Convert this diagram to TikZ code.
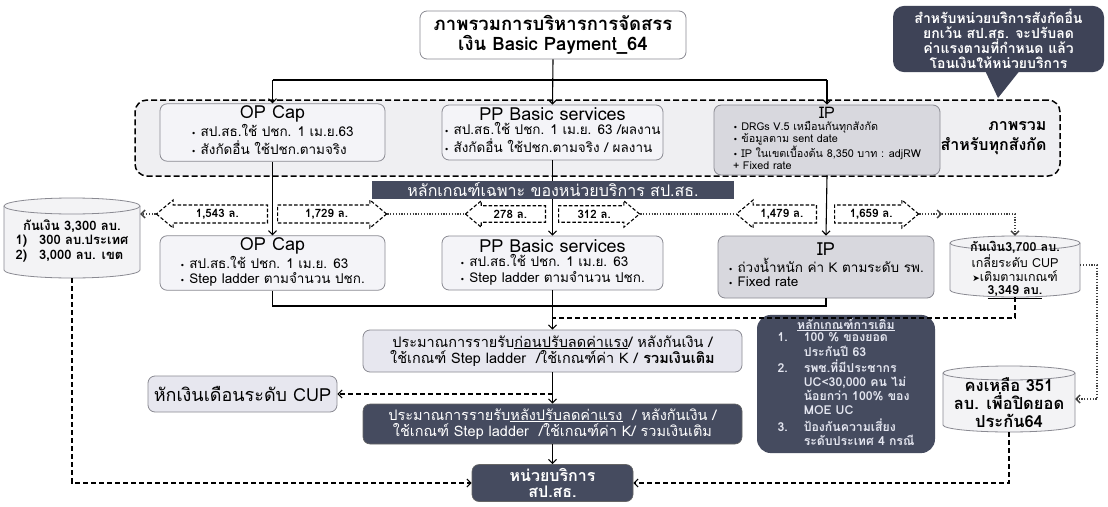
\documentclass[tikz,border=0pt]{standalone}
\usepackage{fontspec}
\setmainfont[Script=Thai]{Loma}
\newfontfamily\symf{DejaVu Sans}
\usetikzlibrary{shapes.arrows,arrows.meta}
\definecolor{darkbx}{HTML}{454B5F}
\definecolor{callbx}{HTML}{3E4357}
\definecolor{lightbx}{HTML}{F4F4F8}
\definecolor{ipbx}{HTML}{D8D8DE}
\definecolor{grpbg}{HTML}{EFEFF2}
\definecolor{bord}{HTML}{8A8A92}
\definecolor{prebx}{HTML}{E7E7EF}
\definecolor{cylbx}{HTML}{F3F3F5}
\definecolor{crittx}{HTML}{E4E6F0}
\newcommand\fs[2]{\fontsize{#1}{#2}\selectfont}
\newcommand\bul{{\symf\fs{8}{10}•}\ }
\newcommand\cylinder[8]{%
  \filldraw[cylst] (#2-#5,#3+#6) -- (#2-#5,#4-#6)
     arc[start angle=180,end angle=360,x radius=#5pt,y radius=#6pt]
     -- (#2+#5,#3+#6)
     arc[start angle=0,end angle=180,x radius=#5pt,y radius=#6pt] -- cycle;
  \draw[cylst] (#2-#5,#3+#6) arc[start angle=180,end angle=360,x radius=#5pt,y radius=#6pt];
  \node[inner sep=0pt, minimum width=2*#5, minimum height=#4-#3] (#1) at (#2,{(#3+#4)/2}) {};
  \node[inner sep=0pt, font=#7, align=center] (#1t) at (#2,{(#3+#4)/2+#6/2}) {#8};
}
\begin{document}
\begin{tikzpicture}[x=1pt,y=-1pt,
  lbox/.style={draw=bord, line width=0.8pt, fill=lightbx, rounded corners=7pt, inner sep=2pt, align=center},
  bfont/.style={font=\fs{13.5}{14.5}},
  ipst/.style={lbox, fill=ipbx},
  dbox/.style={draw=black!60, line width=0.6pt, fill=darkbx, rounded corners=7pt, text=white, align=center},
  grp/.style={draw, fill=grpbg, rounded corners=12pt, line width=1.5pt, dash pattern=on 6pt off 3pt, inner sep=0pt},
  cylst/.style={draw=bord, line width=0.8pt, fill=cylbx},
  plain/.style={line width=1.1pt},
  conn/.style={line width=1.1pt, -{Straight Barb[length=4pt,width=8pt]}},
  dashc/.style={line width=1.1pt, dash pattern=on 5pt off 3pt},
  dasha/.style={dashc, -{Straight Barb[length=4pt,width=8pt]}},
  dotc/.style={line width=1.3pt, dash pattern=on 1.2pt off 1.6pt, draw=black!75},
  dota/.style={dotc, -{Straight Barb[length=4pt,width=8pt]}},
  blk/.style={single arrow, draw, fill=white, line width=1.1pt, dash pattern=on 3.5pt off 2pt,
     single arrow head extend=5pt, single arrow tip angle=80, inner xsep=3pt, inner ysep=3.5pt,
     font=\fs{11.5}{13}\bfseries}
]
\useasboundingbox[fill=white] (0,0) rectangle (1108,506);

% group background
\node[grp, minimum width=925, minimum height=76] (grp) at (597.5,138) {};

% title
\node[lbox, fill=white, minimum width=266, minimum height=48, font=\fs{18.5}{20}\bfseries] (title) at (553,35)
  {ภาพรวมการบริหารการจัดสรร\\เงิน Basic Payment\_64};

% callout
\fill[callbx] (982,64) -- (1025,64) -- (998,98) -- cycle;
\node[dbox, draw=none, fill=callbx, rounded corners=11pt, minimum width=211, minimum height=64, font=\fs{14}{15}\bfseries] (call) at (998.5,39)
  {สำหรับหน่วยบริการสังกัดอื่น\\ยกเว้น สป.สธ. จะปรับลด\\ค่าแรงตามที่กำหนด แล้ว\\โอนเงินให้หน่วยบริการ};

% top row boxes
\node[lbox, bfont, minimum width=225, minimum height=55] (optop) at (272.5,132.5)
  {{\fs{18}{19}OP Cap}\\[1pt]\begin{tabular}{@{}l@{}}\bul สป.สธ.ใช้ ปชก. 1 เม.ย.63\\\bul สังกัดอื่น ใช้ปชก.ตามจริง\end{tabular}};
\node[lbox, bfont, minimum width=221, minimum height=55] (pptop) at (552.5,132.5)
  {{\fs{18}{19}PP Basic services}\\[1pt]\begin{tabular}{@{}l@{}}\bul สป.สธ.ใช้ ปชก. 1 เม.ย. 63 /ผลงาน\\\bul สังกัดอื่น ใช้ปชก.ตามจริง / ผลงาน\end{tabular}};
\node[ipst, minimum width=226, minimum height=68, font=\fs{10.8}{11.6}] (iptop) at (827,140)
  {{\fs{16}{16}IP}\\[2pt]\begin{tabular}{@{}l@{}}\bul DRGs V.5 เหมือนกันทุกสังกัด\\\bul ข้อมูลตาม sent date\\\bul IP ในเขตเบื้องต้น 8,350 บาท : adjRW\\+ Fixed rate\end{tabular}};
\node[anchor=east, align=right, font=\fs{16}{20}\bfseries] (lblall) at (1050,138) {ภาพรวม\\สำหรับทุกสังกัด};

% lower row boxes
\node[lbox, bfont, minimum width=225, minimum height=54] (oplow) at (272.5,263)
  {{\fs{18}{19}OP Cap}\\[1pt]\begin{tabular}{@{}l@{}}\bul สป.สธ.ใช้ ปชก. 1 เม.ย. 63\\\bul Step ladder ตามจำนวน ปชก.\end{tabular}};
\node[lbox, bfont, minimum width=221, minimum height=54] (pplow) at (552.5,263)
  {{\fs{18}{19}PP Basic services}\\[1pt]\begin{tabular}{@{}l@{}}\bul สป.สธ.ใช้ ปชก. 1 เม.ย. 63\\\bul Step ladder ตามจำนวน ปชก.\end{tabular}};
\node[ipst, bfont, minimum width=216, minimum height=62] (iplow) at (826,267)
  {{\fs{18}{19}IP}\\[1pt]\begin{tabular}{@{}l@{}}\bul ถ่วงน้ำหนัก ค่า K ตามระดับ รพ.\\\bul Fixed rate\end{tabular}};

% cylinders
\cylinder{cylA}{72}{198}{278}{68}{8}{\fs{13}{15}\bfseries}{กันเงิน 3,300 ลบ.\\\begin{tabular}{@{}l@{\hspace{12pt}}l@{}}1) & 300 ลบ.ประเทศ\\2) & 3,000 ลบ. เขต\end{tabular}}
\cylinder{cylB}{1015}{236}{297}{65}{7}{\fs{12.5}{13.5}}{\textbf{กันเงิน3,700 ลบ.}\\เกลี่ยระดับ CUP\\{\symf\fs{9}{13}➤}เติมตามเกณฑ์\\\textbf{\underline{3,349 ลบ.}}}
\cylinder{cylC}{1009}{366}{432}{66}{7}{\fs{16.5}{18}\bfseries}{คงเหลือ 351\\ลบ. เพื่อปิดยอด\\ประกัน64}

% middle boxes
\node[lbox, fill=prebx, minimum width=379, minimum height=42, font=\fs{14.5}{16.5}] (pre) at (552.5,351)
  {ประมาณการรายรับ\underline{ก่อนปรับลดค่าแรง}/ หลังกันเงิน /\\ใช้เกณฑ์ Step ladder \ /ใช้เกณฑ์ค่า K / \textbf{รวมเงินเติม}};
\node[lbox, fill=prebx, minimum width=189, minimum height=36, font=\fs{18}{20}] (cup) at (242.5,394) {หักเงินเดือนระดับ CUP};
\node[dbox, minimum width=379, minimum height=40, font=\fs{14.5}{16.5}] (dark) at (552.5,424)
  {ประมาณการรายรับ\underline{หลังปรับลดค่าแรง} \ / หลังกันเงิน /\\ใช้เกณฑ์ Step ladder \ /ใช้เกณฑ์ค่า K/ รวมเงินเติม};
\node[dbox, minimum width=161, minimum height=37, inner sep=1pt, font=\fs{16}{16.5}\bfseries] (unit) at (552.5,483) {หน่วยบริการ\\สป.สธ.};
\node[dbox, draw=none, rounded corners=14pt, minimum width=178, minimum height=130, text=crittx, font=\fs{12.3}{13.6}\bfseries] (crit) at (846,384)
  {\underline{หลักเกณฑ์การเติม}\\\begin{tabular}{@{}l@{\hspace{16pt}}l@{}}1. & 100 \% ของยอด\\ & ประกันปี 63\\2. & รพช.ที่มีประชากร\\ & UC<30,000 คน ไม่\\ & น้อยกว่า 100\% ของ\\ & MOE UC\\3. & ป้องกันความเสี่ยง\\ & ระดับประเทศ 4 กรณี\end{tabular}};

% helper coordinates
\coordinate (hl0) at (0,80);
\coordinate (hl1) at (0,306);
\coordinate (hl2) at (0,318);

% top connectors
\draw[conn] (title.south) -- (pptop.north);
\draw[plain] (optop.north |- hl0) -- (iptop.north |- hl0);
\draw[conn] (optop.north |- hl0) -- (optop.north);
\draw[conn] (iptop.north |- hl0) -- (iptop.north);
\draw[conn] (optop.south) -- (oplow.north);
\draw[conn] (pptop.south) -- (pplow.north);
\draw[conn] (iptop.south) -- (iplow.north);

% banner
\node[fill=darkbx, text=white, minimum width=362, minimum height=18, inner sep=0pt, font=\fs{16}{17}] (banner) at (553,189.5)
  {หลักเกณฑ์เฉพาะ ของหน่วยบริการ สป.สธ.};

% block arrows
\node[blk, shape border rotate=180, minimum height=111, anchor=tail] (a1543) at (268,214) {1,543 ล.};
\node[blk, minimum height=109, anchor=tail] (a1729) at (277,214) {1,729 ล.};
\node[blk, shape border rotate=180, minimum height=80, anchor=tail] (a278) at (546,214) {278 ล.};
\node[blk, minimum height=81, anchor=tail] (a312) at (558,214) {312 ล.};
\node[blk, shape border rotate=180, minimum height=80, anchor=tail] (a1479) at (817,214) {1,479 ล.};
\node[blk, minimum height=84, anchor=tail] (a1659) at (834,214) {1,659 ล.};

% dotted links
\draw[dota] (a1543.tip) -- (cylA.east |- a1543.tip);
\draw[dotc] (a1729.tip) -- (a278.tip);
\draw[dotc] (a312.tip) -- (a1479.tip);
\coordinate (m1) at (942,214);
\draw[dota] (a1659.tip) -- (m1);
\draw[dota] (m1) -- (cylB.north |- m1) -- (cylB.north);
\coordinate (r1) at (1097,265);
\draw[dota] (cylB.east |- r1) -- (r1) -- (r1 |- cylC.east) -- (cylC.east);

% middle connectors
\draw[plain] (oplow.south) -- (oplow.south |- hl1) -- (iplow.south |- hl1) -- (iplow.south);
\draw[dashc] (cylB.south) -- (cylB.south |- hl2) -- (pplow.south |- hl2);
\draw[conn] (pplow.south) -- (pre.north);
\draw[dasha] (pre.south |- cup.east) -- (cup.east);
\draw[conn] (pre.south) -- (dark.north);
\draw[conn] (dark.south) -- (unit.north);

% bottom dashed
\draw[dasha] (cylA.south) -- (cylA.south |- unit.west) -- (unit.west);
\draw[dasha] (cylC.south) -- (cylC.south |- unit.east) -- (unit.east);
\end{tikzpicture}
\end{document}
